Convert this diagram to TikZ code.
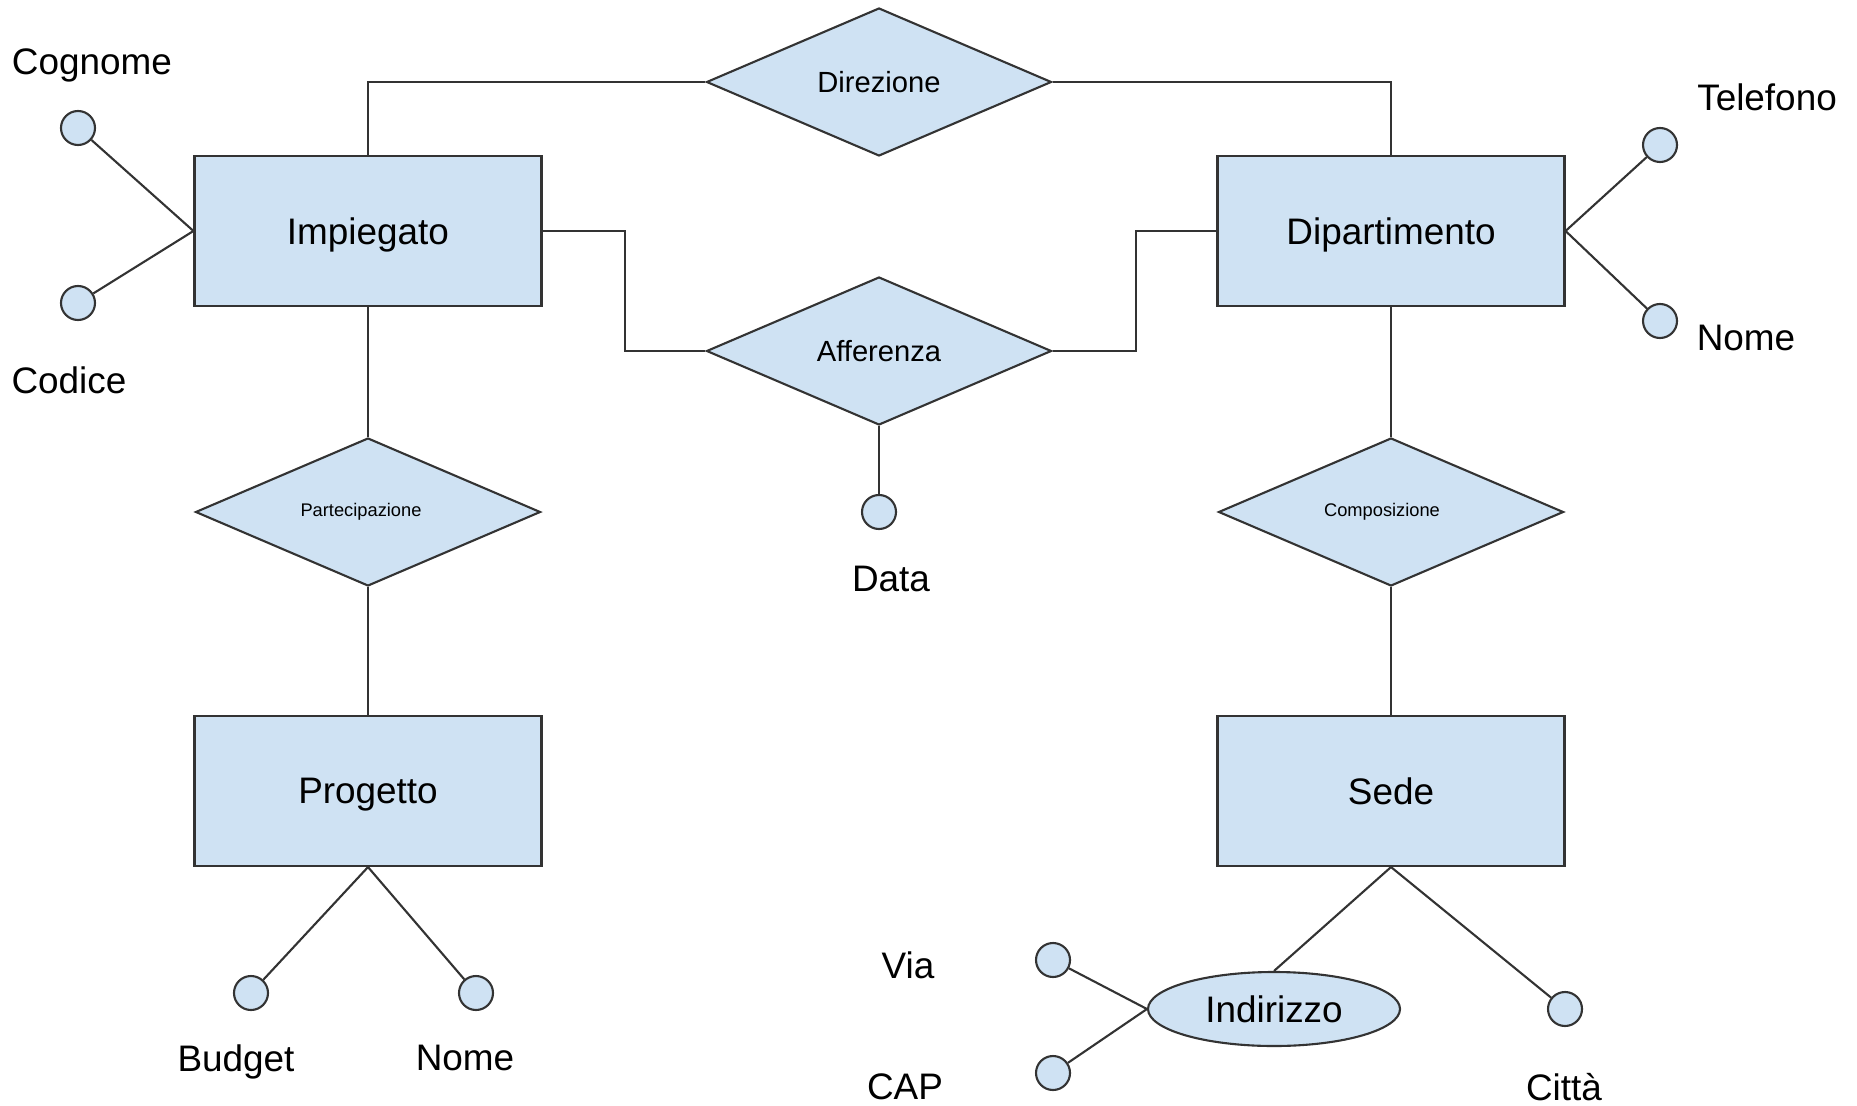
\documentclass[tikz,border=0pt]{standalone}
\usepackage{fontspec}
\setmainfont{Liberation Sans}
\usepackage{xcolor}
\usepackage{tikz}
\usetikzlibrary{positioning}
\usetikzlibrary{shapes.geometric}
\definecolor{celeste}{HTML}{CFE2F3}
\definecolor{bordo}{HTML}{333333}

\begin{document}
\begin{tikzpicture}[line width=0.6pt, draw=bordo,
        entita/.style={rectangle, draw=bordo, fill=celeste, minimum width=3.47cm, minimum height=1.5cm, inner sep=0pt, text depth=0pt, font=\fontsize{10.5}{12}\selectfont},
        relazione/.style={diamond, draw=bordo, fill=celeste, minimum width=3.45cm, minimum height=1.48cm, inner sep=0pt, font=\fontsize{8.3}{10}\selectfont},
        attributo/.style={circle, draw=bordo, fill=celeste, minimum size=0.34cm, inner sep=0pt},
        etichetta/.style={inner sep=0pt, text depth=0pt, font=\fontsize{10.5}{12}\selectfont}]
            \useasboundingbox (0,0) rectangle (18.57,11.05);
            % entita
            \node[entita] (imp) at (3.68,8.74) {Impiegato};
            \node[entita] (dip) at (13.91,8.74) {Dipartimento};
            \node[entita] (prog) at (3.68,3.14) {Progetto};
            \node[entita] (sede) at (13.91,3.14) {Sede};
            % relazioni
            \node[relazione] (dir) at (8.79,10.23) {Direzione};
            \node[relazione] (aff) at (8.79,7.54) {Afferenza};
            \node[relazione, font=\fontsize{5.2}{6}\selectfont] (part) at (3.68,5.93) {\hspace*{-0.14cm}Partecipazione};
            \node[relazione, font=\fontsize{5.2}{6}\selectfont] (comp) at (13.91,5.93) {\hspace*{-0.18cm}Composizione};
            \node[ellipse, draw=bordo, fill=celeste, minimum width=2.52cm, minimum height=0.74cm, inner sep=0pt, text depth=0pt, font=\fontsize{10.5}{12}\selectfont] (ind) at (12.74,0.96) {Indirizzo};
            % attributi
            \node[attributo] (cognome) at (0.78,9.77) {};
            \node[attributo] (codice) at (0.78,8.02) {};
            \node[attributo] (telefono) at (16.6,9.6) {};
            \node[attributo] (nomedip) at (16.6,7.84) {};
            \node[attributo] (data) at (8.79,5.93) {};
            \node[attributo] (budget) at (2.51,1.12) {};
            \node[attributo] (nomeprog) at (4.76,1.12) {};
            \node[attributo] (via) at (10.53,1.45) {};
            \node[attributo] (cap) at (10.53,0.32) {};
            \node[attributo] (citta) at (15.65,0.96) {};
            % etichette
            \node[etichetta] (lcognome) at (0.92,10.43) {Cognome};
            \node[etichetta] (lcodice) at (0.69,7.25) {Codice};
            \node[etichetta] (ltelefono) at (17.67,10.08) {Telefono};
            \node[etichetta] (lnomedip) at (17.46,7.67) {Nome};
            \node[etichetta] (ldata) at (8.91,5.26) {Data};
            \node[etichetta] (lbudget) at (2.36,0.47) {Budget};
            \node[etichetta] (lnomeprog) at (4.65,0.47) {Nome};
            \node[etichetta] (lvia) at (9.08,1.4) {Via};
            \node[etichetta] (lcap) at (9.05,0.18) {CAP};
            \node[etichetta] (lcitta) at (15.64,0.18) {Città};
            % collegamenti
            \draw (imp.north) |- (dir.west);
            \draw (dir.east) -| (dip.north);
            \draw (imp.east) -- ++(0.82,0) |- (aff.west);
            \draw (aff.east) -- ++(0.83,0) |- (dip.west);
            \draw (aff.south) -- (data);
            \draw (imp) -- (part);
            \draw (part) -- (prog);
            \draw (dip) -- (comp);
            \draw (comp) -- (sede);
            \draw (imp.west) -- (cognome);
            \draw (imp.west) -- (codice);
            \draw (dip.east) -- (telefono);
            \draw (dip.east) -- (nomedip);
            \draw (prog.south) -- (budget);
            \draw (prog.south) -- (nomeprog);
            \draw (sede.south) -- (ind.north);
            \draw (sede.south) -- (citta);
            \draw (ind.west) -- (via);
            \draw (ind.west) -- (cap);
        \end{tikzpicture}
\end{document}
